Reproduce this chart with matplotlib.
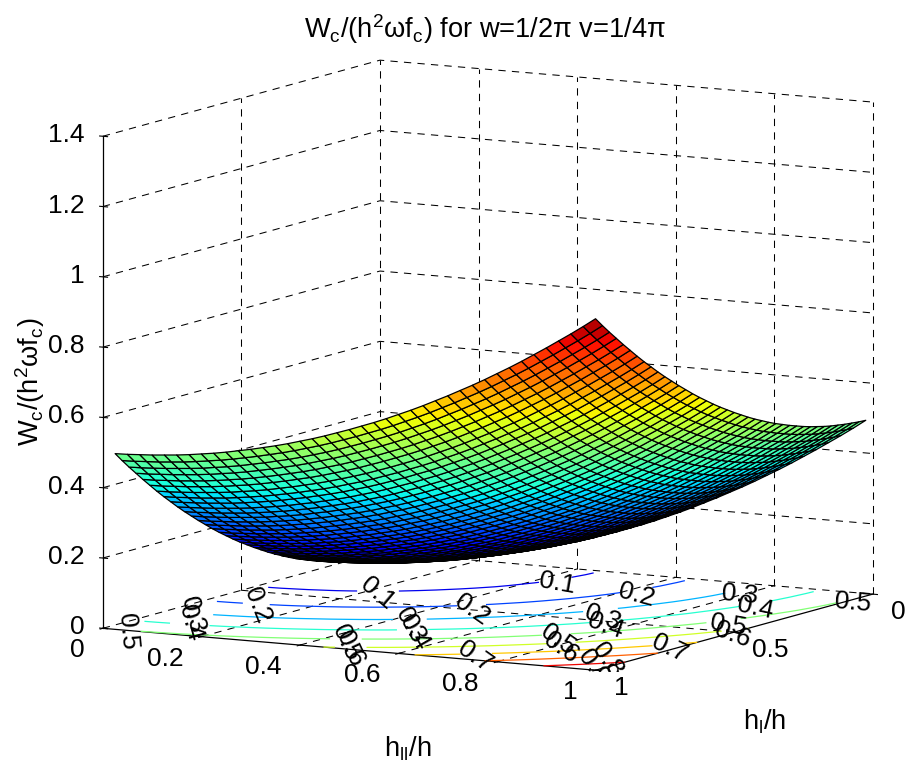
import numpy as np
import matplotlib
matplotlib.use("Agg")
import matplotlib.pyplot as plt
from matplotlib.transforms import Bbox
from mpl_toolkits.mplot3d import proj3d

plt.rcParams["font.family"] = ["Liberation Sans", "DejaVu Sans"]
plt.rcParams["mathtext.fontset"] = "custom"
plt.rcParams["mathtext.rm"] = "Liberation Sans"
plt.rcParams["mathtext.it"] = "Liberation Sans"

hll = [0.025, 0.05, 0.075, 0.1, 0.125, 0.15, 0.175, 0.2, 0.225, 0.25, 0.275, 0.3, 0.325, 0.35, 0.375, 0.4, 0.425, 0.45, 0.475, 0.5,
       0.525, 0.55, 0.575, 0.6, 0.625, 0.65, 0.675, 0.7, 0.725, 0.75, 0.775, 0.8, 0.825, 0.85, 0.875, 0.9, 0.925, 0.95, 0.975, 1.0]
hl = [0.025, 0.05, 0.075, 0.1, 0.125, 0.15, 0.175, 0.2, 0.225, 0.25, 0.275, 0.3, 0.325, 0.35, 0.375, 0.4, 0.425, 0.45, 0.475, 0.5,
      0.525, 0.55, 0.575, 0.6, 0.625, 0.65, 0.675, 0.7, 0.725, 0.75, 0.775, 0.8, 0.825, 0.85, 0.875, 0.9, 0.925, 0.95, 0.975, 1.0]

# surface height in thousandths, one row per hl value, estimated from the contours and edges
wc_milli = [
    [0,1,3,5,8,11,15,20,25,31,38,45,53,61,70,80,90,101,113,125,138,151,165,180,195,211,228,245,263,281,300,320,340,361,383,405,428,451,475,500],
    [1,2,4,6,9,12,16,21,26,32,39,46,54,62,71,81,91,102,114,126,139,152,166,181,196,212,229,246,264,282,301,321,341,362,384,406,429,452,476,501],
    [3,4,6,8,11,14,18,23,28,34,41,48,56,64,73,83,93,104,116,128,141,154,168,183,198,214,231,248,266,284,303,323,343,364,386,408,431,454,478,503],
    [5,6,8,10,13,16,20,25,30,36,43,50,58,66,75,85,95,106,118,130,143,156,170,185,200,216,233,250,268,286,305,325,345,366,388,410,433,456,480,505],
    [8,9,11,13,16,19,23,28,33,39,46,53,61,69,78,88,98,109,121,133,146,159,173,188,203,219,236,253,271,289,308,328,348,369,391,413,436,459,483,508],
    [11,12,14,16,19,22,26,31,36,42,49,56,64,72,81,91,101,112,124,136,149,162,176,191,206,222,239,256,274,292,311,331,351,372,394,416,439,462,486,511],
    [15,16,18,20,23,26,30,35,40,46,53,60,68,76,85,95,105,116,128,140,153,166,180,195,210,226,243,260,278,296,315,335,355,376,398,420,443,466,490,515],
    [20,21,23,25,28,31,35,40,45,51,58,65,73,81,90,100,110,121,133,145,158,171,185,200,215,231,248,265,283,301,320,340,360,381,403,425,448,471,495,520],
    [25,26,28,30,33,36,40,45,50,56,63,70,78,86,95,105,115,126,138,150,163,176,190,205,220,236,253,270,288,306,325,345,365,386,408,430,453,476,500,525],
    [31,32,34,36,39,42,46,51,56,62,69,76,84,92,101,111,121,132,144,156,169,182,196,211,226,242,259,276,294,312,331,351,371,392,414,436,459,482,506,531],
    [38,39,41,43,46,49,53,58,63,69,76,83,91,99,108,118,128,139,151,163,176,189,203,218,233,249,266,283,301,319,338,358,378,399,421,443,466,489,513,538],
    [45,46,48,50,53,56,60,65,70,76,83,90,98,106,115,125,135,146,158,170,183,196,210,225,240,256,273,290,308,326,345,365,385,406,428,450,473,496,520,545],
    [53,54,56,58,61,64,68,73,78,84,91,98,106,114,123,133,143,154,166,178,191,204,218,233,248,264,281,298,316,334,353,373,393,414,436,458,481,504,528,553],
    [61,62,64,66,69,72,76,81,86,92,99,106,114,122,131,141,151,162,174,186,199,212,226,241,256,272,289,306,324,342,361,381,401,422,444,466,489,512,536,561],
    [70,71,73,75,78,81,85,90,95,101,108,115,123,131,140,150,160,171,183,195,208,221,235,250,265,281,298,315,333,351,370,390,410,431,453,475,498,521,545,570],
    [80,81,83,85,88,91,95,100,105,111,118,125,133,141,150,160,170,181,193,205,218,231,245,260,275,291,308,325,343,361,380,400,420,441,463,485,508,531,555,580],
    [90,91,93,95,98,101,105,110,115,121,128,135,143,151,160,170,180,191,203,215,228,241,255,270,285,301,318,335,353,371,390,410,430,451,473,495,518,541,565,590],
    [101,102,104,106,109,112,116,121,126,132,139,146,154,162,171,181,191,202,214,226,239,252,266,281,296,312,329,346,364,382,401,421,441,462,484,506,529,552,576,601],
    [113,114,116,118,121,124,128,133,138,144,151,158,166,174,183,193,203,214,226,238,251,264,278,293,308,324,341,358,376,394,413,433,453,474,496,518,541,564,588,613],
    [125,126,128,130,133,136,140,145,150,156,163,170,178,186,195,205,215,226,238,250,263,276,290,305,320,336,353,370,388,406,425,445,465,486,508,530,553,576,600,625],
    [138,139,141,143,146,149,153,158,163,169,176,183,191,199,208,218,228,239,251,263,276,289,303,318,333,349,366,383,401,419,438,458,478,499,521,543,566,589,613,638],
    [151,152,154,156,159,162,166,171,176,182,189,196,204,212,221,231,241,252,264,276,289,302,316,331,346,362,379,396,414,432,451,471,491,512,534,556,579,602,626,651],
    [165,166,168,170,173,176,180,185,190,196,203,210,218,226,235,245,255,266,278,290,303,316,330,345,360,376,393,410,428,446,465,485,505,526,548,570,593,616,640,665],
    [180,181,183,185,188,191,195,200,205,211,218,225,233,241,250,260,270,281,293,305,318,331,345,360,375,391,408,425,443,461,480,500,520,541,563,585,608,631,655,680],
    [195,196,198,200,203,206,210,215,220,226,233,240,248,256,265,275,285,296,308,320,333,346,360,375,390,406,423,440,458,476,495,515,535,556,578,600,623,646,670,695],
    [211,212,214,216,219,222,226,231,236,242,249,256,264,272,281,291,301,312,324,336,349,362,376,391,406,422,439,456,474,492,511,531,551,572,594,616,639,662,686,711],
    [228,229,231,233,236,239,243,248,253,259,266,273,281,289,298,308,318,329,341,353,366,379,393,408,423,439,456,473,491,509,528,548,568,589,611,633,656,679,703,728],
    [245,246,248,250,253,256,260,265,270,276,283,290,298,306,315,325,335,346,358,370,383,396,410,425,440,456,473,490,508,526,545,565,585,606,628,650,673,696,720,745],
    [263,264,266,268,271,274,278,283,288,294,301,308,316,324,333,343,353,364,376,388,401,414,428,443,458,474,491,508,526,544,563,583,603,624,646,668,691,714,738,763],
    [281,282,284,286,289,292,296,301,306,312,319,326,334,342,351,361,371,382,394,406,419,432,446,461,476,492,509,526,544,562,581,601,621,642,664,686,709,732,756,781],
    [300,301,303,305,308,311,315,320,325,331,338,345,353,361,370,380,390,401,413,425,438,451,465,480,495,511,528,545,563,581,600,620,640,661,683,705,728,751,775,800],
    [320,321,323,325,328,331,335,340,345,351,358,365,373,381,390,400,410,421,433,445,458,471,485,500,515,531,548,565,583,601,620,640,660,681,703,725,748,771,795,820],
    [340,341,343,345,348,351,355,360,365,371,378,385,393,401,410,420,430,441,453,465,478,491,505,520,535,551,568,585,603,621,640,660,680,701,723,745,768,791,815,840],
    [361,362,364,366,369,372,376,381,386,392,399,406,414,422,431,441,451,462,474,486,499,512,526,541,556,572,589,606,624,642,661,681,701,722,744,766,789,812,836,861],
    [383,384,386,388,391,394,398,403,408,414,421,428,436,444,453,463,473,484,496,508,521,534,548,563,578,594,611,628,646,664,683,703,723,744,766,788,811,834,858,883],
    [405,406,408,410,413,416,420,425,430,436,443,450,458,466,475,485,495,506,518,530,543,556,570,585,600,616,633,650,668,686,705,725,745,766,788,810,833,856,880,905],
    [428,429,431,433,436,439,443,448,453,459,466,473,481,489,498,508,518,529,541,553,566,579,593,608,623,639,656,673,691,709,728,748,768,789,811,833,856,879,903,928],
    [451,452,454,456,459,462,466,471,476,482,489,496,504,512,521,531,541,552,564,576,589,602,616,631,646,662,679,696,714,732,751,771,791,812,834,856,879,902,926,951],
    [475,476,478,480,483,486,490,495,500,506,513,520,528,536,545,555,565,576,588,600,613,626,640,655,670,686,703,720,738,756,775,795,815,836,858,880,903,926,950,975],
    [500,501,503,505,508,511,515,520,525,531,538,545,553,561,570,580,590,601,613,625,638,651,665,680,695,711,728,745,763,781,800,820,840,861,883,905,928,951,975,1000],
]

xticks = [0, 0.2, 0.4, 0.6, 0.8, 1]
yticks = [0, 0.5, 1]
zticks = [0, 0.2, 0.4, 0.6, 0.8, 1, 1.2, 1.4]
xticklabels = ["0", "0.2", "0.4", "0.6", "0.8", "1"]
yticklabels = ["0", "0.5", "1"]
zticklabels = ["0", "0.2", "0.4", "0.6", "0.8", "1", "1.2", "1.4"]
levels = [0.1, 0.2, 0.3, 0.4, 0.5, 0.6, 0.7, 0.8, 0.9]

# contour labels as they sit in the picture: text, pixel x, pixel y, rotation
contour_labels = [
    ("0.5", 128, 632, -85), ("0.3", 192, 615, -75), ("0.4", 190, 623, -75),
    ("0.2", 257, 605, -68), ("0.1", 377, 593, -40), ("0.5", 346, 643, -65),
    ("0.6", 350, 649, -65), ("0.3", 410, 625, -60), ("0.4", 414, 632, -60),
    ("0.2", 472, 610, -35), ("0.7", 475, 657, -35), ("0.1", 557, 583, -10),
    ("0.2", 637, 595, -15), ("0.3", 740, 595, -5), ("0.4", 755, 608, -12),
    ("0.5", 853, 603, -5), ("0.3", 603, 618, -20), ("0.4", 606, 626, -20),
    ("0.5", 558, 640, -35), ("0.6", 561, 648, -35), ("0.5", 728, 625, -10),
    ("0.6", 733, 635, -20), ("0.7", 670, 648, -25),
]
# these two are cut off at the front corner in the picture
clipped_labels = [("0.9", 593, 667, -55), ("0.8", 607, 660, -55)]

W, H = 907, 774
FS = 19

fig = plt.figure(figsize=(9.07, 7.74), dpi=100)
ax = fig.add_axes([0.0467, 0.0352, 0.96, 0.96], projection="3d", proj_type="ortho")
ax.computed_zorder = False
ax.view_init(elev=8.79, azim=-60.9)
ax.set_box_aspect((564, 570, 498), zoom=1.233)
ax.patch.set_alpha(0)

ax.set_xlim(0, 1)
ax.set_ylim(1, 0)
ax.set_zlim(0, 1.4)
ax.set_xticks(xticks)
ax.set_yticks(yticks)
ax.set_zticks(zticks)
ax.set_xticklabels([])
ax.set_yticklabels([])
ax.set_zticklabels([])
ax.zaxis.set_ticks_position("upper")
ax.grid(False)

for axis in (ax.xaxis, ax.yaxis, ax.zaxis):
    axis.pane.set_facecolor("none")
    axis.pane.set_edgecolor("none")
    axis.line.set_color("k")
    axis.line.set_linewidth(0.9)
    axis._axinfo["tick"].update(inward_factor=0.12, outward_factor=0.08, color="k")

# grid on the two back walls and the floor
dash = dict(color="k", linestyle=(0, (7, 6)), linewidth=0.75, zorder=1, clip_on=False)
for v in zticks:
    ax.plot([0, 0, 1], [1, 0, 0], [v, v, v], **dash)
for v in xticks:
    ax.plot([v, v], [0, 0], [0, 1.4], **dash)
    if 0 < v < 1:
        ax.plot([v, v], [1, 0], [0, 0], **dash)
for v in yticks:
    if 0 < v < 1:
        ax.plot([0, 0], [v, v], [0, 1.4], **dash)
        ax.plot([1, 0], [v, v], [0, 0], **dash)

X, Y = np.meshgrid(hll, hl)
Z = np.array(wc_milli) / 1000
jet = plt.get_cmap("jet", 64)
# each cell takes the colour of its first corner, as in the picture
surf = ax.plot_surface(X, Y, Z, facecolors=jet(Z), rcount=40, ccount=40,
                       edgecolor="k", linewidth=0.9, shade=False, zorder=3)
surf.set_clip_on(False)

fig.canvas.draw()
M = ax.get_proj()

# contour lines stop where their labels sit
a, b, _ = proj3d.proj_transform(X.ravel(), Y.ravel(), 0 * X.ravel(), M)
nodes = ax.transData.transform(np.column_stack([a, b]))
node_x = nodes[:, 0].reshape(X.shape)
node_y = (H - nodes[:, 1]).reshape(X.shape)
for lv in levels:
    Zl = Z.copy()
    for s, px, py, r in contour_labels:
        if s == f"{lv:.1f}":
            Zl[np.hypot(node_x - px, node_y - py) < 11] = np.nan
    cs = ax.contour(X, Y, Zl, levels=[lv], offset=0, colors=[jet(lv)], linewidths=0.9, zorder=2)
    cs.set_clip_on(False)


def tick_text(x, y, z, s, dx, dy, ha):
    a, b, _ = proj3d.proj_transform(x, y, z, M)
    ax.annotate(s, (a, b), xytext=(dx, dy), textcoords="offset pixels", ha=ha, va="center",
                fontsize=FS, annotation_clip=False)


for v, s in zip(xticks, xticklabels):
    tick_text(v, 1, 0, s, -18, -22, "right")
for v, s in zip(yticks, yticklabels):
    tick_text(1, v, 0, s, 18, -18, "left")
for v, s in zip(zticks, zticklabels):
    tick_text(0, 1, v, s, -18, 1, "right")

for s, px, py, r in contour_labels:
    fig.text(px / W, 1 - py / H, s, rotation=r, ha="center", va="center", fontsize=FS)
for s, px, py, r in clipped_labels:
    t = fig.text(px / W, 1 - py / H, s, rotation=r, ha="center", va="center", fontsize=FS, clip_on=True)
    t.set_clip_box(Bbox([[0, H - 672], [W, H]]))

fig.text(485 / W, 1 - 29 / H, r"W$_{\mathrm{c}}$/(h$^{\mathrm{2}}$ωf$_{\mathrm{c}}$) for w=1/2π v=1/4π",
         ha="center", va="center", fontsize=19.6)
fig.text(30 / W, 1 - 382 / H, r"W$_{\mathrm{c}}$/(h$^{\mathrm{2}}$ωf$_{\mathrm{c}}$)", rotation=90,
         ha="center", va="center", fontsize=19.6)
fig.text(408 / W, 1 - 749 / H, r"h$_{\mathrm{ll}}$/h", ha="center", va="center", fontsize=19.6)
fig.text(765 / W, 1 - 722 / H, r"h$_{\mathrm{l}}$/h", ha="center", va="center", fontsize=19.6)

fig.savefig("out.png", dpi=100)
